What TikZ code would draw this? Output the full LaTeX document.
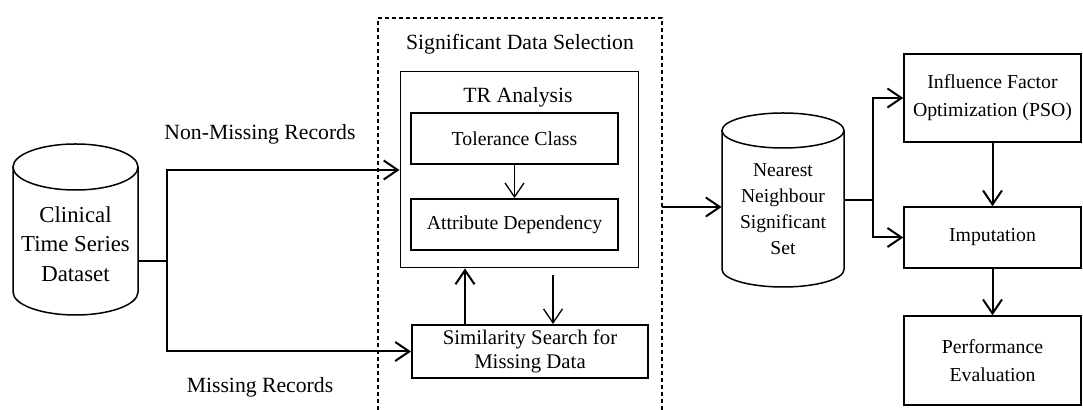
\documentclass[tikz,border=0pt]{standalone}
\usepackage{fontspec}
\setmainfont{Liberation Serif}
\usetikzlibrary{arrows.meta,calc}
\begin{document}
\begin{tikzpicture}[x=0.5pt,y=-0.5pt,
  every node/.style={font=\fontsize{10.85}{13}\selectfont},
  >={Straight Barb[length=7pt,width=9.5pt]},
  conn/.style={line width=1pt},
  thinconn/.style={line width=0.65pt},
  blk/.style={draw,rectangle,inner sep=0pt,align=center},
  lbl/.style={inner sep=0pt},
  smallfont/.style={font=\fontsize{9.9}{13}\selectfont},
  cyl/.style={line width=0.75pt}]
\useasboundingbox (0,0) rectangle (1083,410);

% dashed frame of the selection stage (open at the bottom)
\draw[line width=0.6pt,dash pattern=on 2pt off 1.5pt] (378,410) -- (378,18) -- (662,18) -- (662,410);
\node[lbl] (sdstitle) at (520,44) {Significant Data Selection};

% left data store
\draw[cyl] (13,167) -- (13,292) arc[start angle=180,end angle=360,x radius=31.25pt,y radius=11.5pt] -- (138,167);
\draw[cyl] (75.5,167) ellipse[x radius=31.25pt,y radius=11.5pt];
\node[minimum width=62.5pt,minimum height=85.5pt,inner sep=0pt] (cylL) at (75.5,229.5) {};
\node[lbl,align=center,font=\fontsize{11.4}{14.75}\selectfont] (cylLtxt) at (75.5,244) {Clinical\\Time Series\\Dataset};

% TR analysis block
\node[blk,line width=0.5pt,minimum width=119pt,minimum height=98pt] (tr) at (519,170) {};
\node[lbl] (trtitle) at (518,97) {TR Analysis};
\node[blk,smallfont,line width=0.9pt,minimum width=103.5pt,minimum height=25.5pt] (tol) at (514.5,138.5) {Tolerance Class};
\node[blk,smallfont,line width=0.9pt,minimum width=103.5pt,minimum height=25.5pt] (att) at (514.5,224.5) {Attribute Dependency};
\node[blk,line width=1pt,minimum width=118pt,minimum height=26.5pt,font=\fontsize{10.4}{12}\selectfont] (sim) at (530,351.5) {Similarity Search for\\Missing Data};

% right data store
\draw[cyl] (722,130.5) -- (722,269.5) arc[start angle=180,end angle=360,x radius=30.5pt,y radius=8.75pt] -- (844,130.5);
\draw[cyl] (783,130.5) ellipse[x radius=30.5pt,y radius=8.75pt];
\node[minimum width=61pt,minimum height=87pt,inner sep=0pt] (cylR) at (783,200) {};
\node[lbl,align=center,font=\fontsize{9.8}{13}\selectfont] (cylRtxt) at (783,209) {Nearest\\Neighbour\\Significant\\Set};

% right-hand blocks
\node[blk,line width=0.75pt,minimum width=88.5pt,minimum height=44pt,font=\fontsize{9.9}{14}\selectfont] (inf) at (992.5,98) {Influence Factor\\Optimization (PSO)};
\node[blk,smallfont,line width=0.75pt,minimum width=88.5pt,minimum height=30.5pt] (imp) at (992.5,237.5) {Imputation};
\node[blk,line width=0.75pt,minimum width=88.5pt,minimum height=44.5pt,font=\fontsize{9.9}{14}\selectfont] (perf) at (992.5,360.5) {Performance\\Evaluation};

% edge labels
\node[lbl] (nmr) at (260,134) {Non-Missing Records};
\node[lbl] (mr) at (260,387) {Missing Records};

% junctions
\coordinate (jL) at (167,261);
\coordinate (dsR) at (662,207);
\coordinate (jR) at (873,200);

% connectors
\draw[conn] (cylL.east |- jL) -- (jL);
\draw[conn,->] (jL) |- (tr.west);
\draw[conn,->] (jL) |- (sim.west);
\draw[thinconn,->] (tol) -- (att);
\draw[conn,->] ([xshift=-32.5pt]sim.north) -- ([xshift=-32.5pt]sim.north |- tr.south);
\draw[thinconn,->] ([xshift=17pt,yshift=-3.5pt]tr.south) -- ([xshift=17pt]tr.south |- sim.north);
\draw[conn,->] (dsR) -- (cylR.west |- dsR);
\draw[conn] (cylR.east) -- (jR);
\draw[conn,->] (jR) |- (inf.west);
\draw[conn,->] (jR) |- (imp.west);
\draw[conn,->] (inf) -- (imp);
\draw[conn,->] (imp) -- (perf);
\end{tikzpicture}
\end{document}
